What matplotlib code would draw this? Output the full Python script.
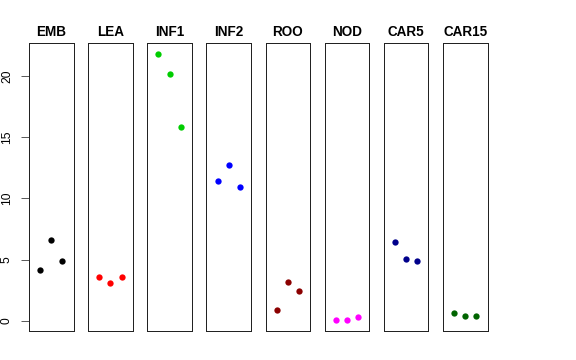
import matplotlib
matplotlib.use("Agg")
import matplotlib.pyplot as plt

plt.rcParams['font.family'] = ['Liberation Sans', 'DejaVu Sans']

categories = ["EMB", "LEA", "INF1", "INF2", "ROO", "NOD", "CAR5", "CAR15"]
colors = ["#000000", "#FF0000", "#00CD00", "#0000FF", "#8B0000", "#FF00FF", "#00008B", "#006400"]
values = {
    "EMB":   [4.18, 6.61, 4.86],
    "LEA":   [3.61, 3.06, 3.55],
    "INF1":  [21.85, 20.19, 15.87],
    "INF2":  [11.44, 12.73, 10.93],
    "ROO":   [0.87, 3.14, 2.40],
    "NOD":   [0.03, 0.05, 0.27],
    "CAR5":  [6.48, 5.05, 4.89],
    "CAR15": [0.66, 0.38, 0.41],
}
reps = [1, 2, 3]
yticks = [0, 5, 10, 15, 20]

W, H = 576, 360
fig = plt.figure(figsize=(W / 72, H / 72), dpi=72)

allv = [v for c in categories for v in values[c]]
lo, hi = min(allv), max(allv)
ext = 0.04 * (hi - lo)
ylim = (lo - ext, hi + ext)

left0, step, width = 29.0, 59.15, 44.5
top, bottom = 43.0, 331.0
for i, (cat, col) in enumerate(zip(categories, colors)):
    x0 = left0 + i * step
    ax = fig.add_axes([x0 / W, (H - bottom) / H, width / W, (bottom - top) / H])
    ax.plot(reps, values[cat], 'o', color=col, markersize=6.3, markeredgewidth=0)
    ax.set_xlim(0, 4)
    ax.set_ylim(*ylim)
    ax.set_xticks([])
    ax.set_title(cat, fontsize=13.5, fontweight='bold', pad=7)
    for s in ax.spines.values():
        s.set_linewidth(1.0)
        s.set_color('#222222')
    if i == 0:
        ax.set_yticks(yticks)
        ax.set_yticklabels([str(t) for t in yticks], rotation=90, va='center', fontsize=12)
        ax.tick_params(axis='y', length=8, width=0.8, pad=8, color='#333333')
    else:
        ax.set_yticks([])

fig.savefig("out.png", dpi=72)
